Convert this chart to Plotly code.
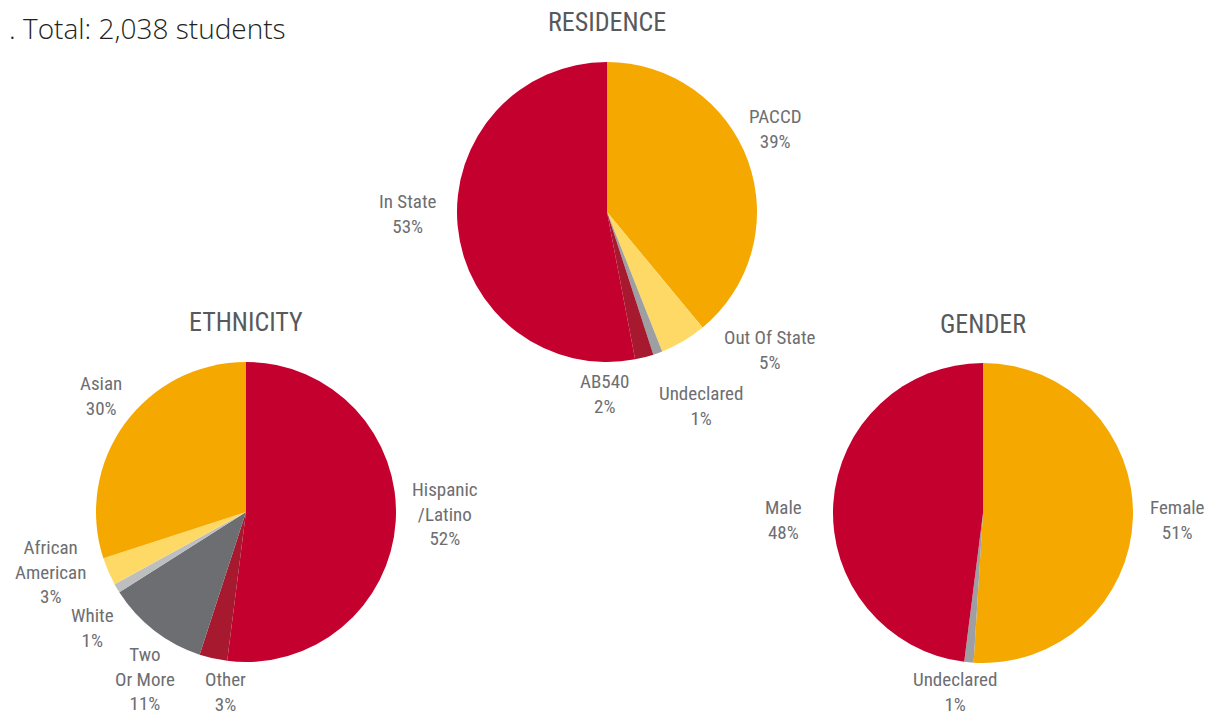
import plotly.graph_objects as go

# === Data ===
res_labels = ["PACCD", "Out Of State", "Undeclared", "AB540", "In State"]
res_values = [39, 5, 1, 2, 53]

eth_labels = ["Hispanic<br>/Latino", "Other", "Two<br>Or More", "White", "African<br>American", "Asian"]
eth_values = [52, 3, 11, 1, 3, 30]

gen_labels = ["Female", "Undeclared", "Male"]
gen_values = [51, 1, 48]

# === Colours ===
CRIMSON = "#C4002F"
ORANGE = "#F5A800"
YELLOW = "#FFD966"
MIDGRAY = "#9D9FA2"
DARKRED = "#A6192E"
DARKGRAY = "#6D6E71"
LIGHTGRAY = "#BCBEC0"

res_colors = [ORANGE, YELLOW, MIDGRAY, DARKRED, CRIMSON]
eth_colors = [CRIMSON, DARKRED, DARKGRAY, LIGHTGRAY, YELLOW, ORANGE]
gen_colors = [ORANGE, MIDGRAY, CRIMSON]

# page body has an 8px margin, so the figure is a bit smaller than the window
PAGE_W, PAGE_H, BODY = 1217, 715, 8
W, H = PAGE_W - BODY, PAGE_H - BODY
FONT = "Liberation Sans Narrow, Roboto Condensed, Arial Narrow, sans-serif"
LABEL_COLOR = "#6D6E71"


def px_x(x):
    return (x - BODY) / W


def px_y(y):
    return 1 - (y - BODY) / H


def domain(cx, cy, r):
    return dict(x=[px_x(cx - r), px_x(cx + r)], y=[px_y(cy + r), px_y(cy - r)])


fig = go.Figure()

pies = [
    (res_labels, res_values, res_colors, domain(607, 212, 150)),
    (eth_labels, eth_values, eth_colors, domain(246, 512, 150)),
    (gen_labels, gen_values, gen_colors, domain(983, 513, 150)),
]
for labels, values, colors, dom in pies:
    fig.add_trace(go.Pie(
        labels=labels,
        values=values,
        sort=False,
        direction="clockwise",
        rotation=0,
        marker=dict(colors=colors, line=dict(width=0)),
        textinfo="none",
        hoverinfo="label+percent",
        domain=dom,
        showlegend=False,
    ))

# === Slice labels (text placement, page pixels) ===
label_pos = [
    (res_labels, res_values, [(775, 129), (770, 350), (701, 406), (604, 394), (408, 214)]),
    (eth_labels, eth_values, [(445, 514), (225, 692), (145, 679), (92, 628), (50, 572), (101, 396)]),
    (gen_labels, gen_values, [(1177, 520), (955, 692), (784, 520)]),
]
annotations = []
for labels, values, spots in label_pos:
    for lab, val, (x, y) in zip(labels, values, spots):
        annotations.append(dict(
            x=px_x(x), y=px_y(y), xref="paper", yref="paper",
            text=f"{lab}<br>{val}%", showarrow=False,
            xanchor="center", yanchor="middle",
            font=dict(family=FONT, size=19, color=LABEL_COLOR),
        ))

# === Pie titles ===
for title, x, y in [("RESIDENCE", 607, 22), ("ETHNICITY", 246, 322), ("GENDER", 983, 324)]:
    annotations.append(dict(
        x=px_x(x), y=px_y(y), xref="paper", yref="paper",
        text=title, showarrow=False, xanchor="center", yanchor="middle",
        font=dict(family=FONT, size=26, color="#58595B"),
    ))

annotations.append(dict(
    x=0, y=1, xref="paper", yref="paper",
    text=". Total: 2,038 students", showarrow=False,
    xanchor="left", yanchor="top", borderpad=0,
    font=dict(family="Open Sans, DejaVu Sans, sans-serif", size=28, weight=300, color="#231F20"),
))

fig.update_layout(
    width=W, height=H,
    margin=dict(l=0, r=0, t=0, b=0),
    paper_bgcolor="white",
    plot_bgcolor="white",
    annotations=annotations,
)

fig.write_html("out.html")
